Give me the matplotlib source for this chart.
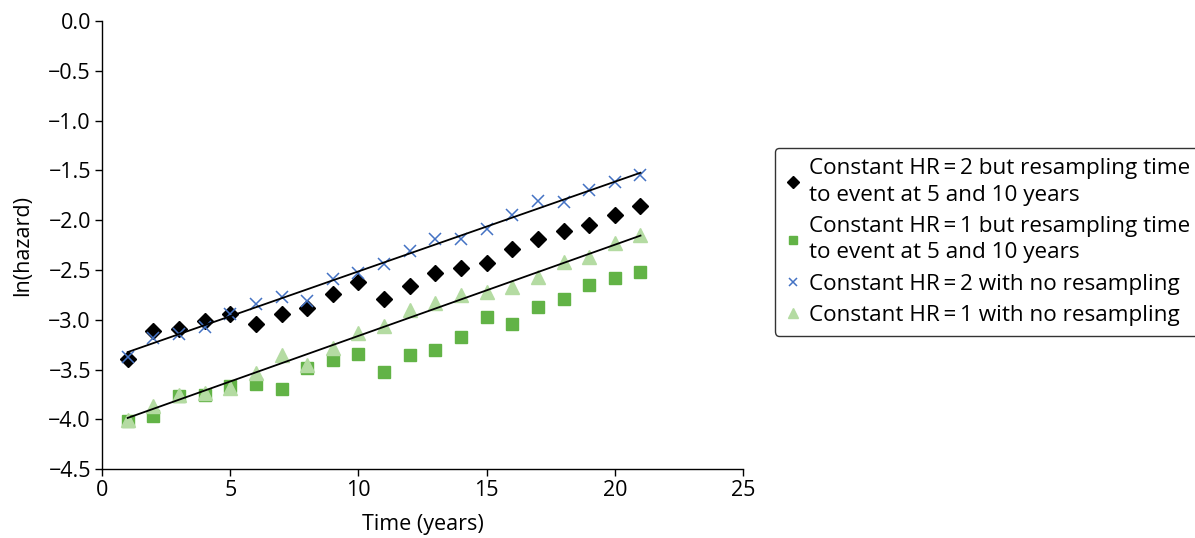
import numpy as np
import matplotlib
matplotlib.use("Agg")
import matplotlib.pyplot as plt

plt.rcParams['font.family'] = ['Open Sans', 'DejaVu Sans']

time_years = [1, 2, 3, 4, 5, 6, 7, 8, 9, 10, 11, 12, 13, 14, 15, 16, 17, 18, 19, 20, 21]

hr2_resampling = [-3.39, -3.11, -3.09, -3.01, -2.94, -3.04, -2.94, -2.88, -2.74, -2.62, -2.79,
                  -2.66, -2.53, -2.48, -2.43, -2.29, -2.19, -2.11, -2.05, -1.95, -1.86]
hr1_resampling = [-4.02, -3.97, -3.77, -3.76, -3.67, -3.65, -3.70, -3.48, -3.40, -3.34, -3.52,
                  -3.35, -3.30, -3.17, -2.97, -3.04, -2.87, -2.79, -2.65, -2.58, -2.52]
hr2_no_resampling = [-3.37, -3.18, -3.14, -3.07, -2.94, -2.84, -2.77, -2.81, -2.59, -2.53, -2.44,
                     -2.31, -2.19, -2.19, -2.09, -1.95, -1.81, -1.82, -1.70, -1.62, -1.55]
hr1_no_resampling = [-4.01, -3.87, -3.76, -3.74, -3.69, -3.53, -3.35, -3.45, -3.28, -3.13, -3.06,
                     -2.90, -2.83, -2.75, -2.72, -2.67, -2.57, -2.42, -2.37, -2.23, -2.15]

labels = [
    "Constant HR\u2009=\u20092 but resampling time\nto event at 5 and 10 years",
    "Constant HR\u2009=\u20091 but resampling time\nto event at 5 and 10 years",
    "Constant HR\u2009=\u20092 with no resampling",
    "Constant HR\u2009=\u20091 with no resampling",
]

fig = plt.figure(figsize=(11.95, 5.38), dpi=100)
ax = fig.add_axes([0.0854, 0.128, 0.5364, 0.833])

t = np.array(time_years)
h1, = ax.plot(t, hr2_resampling, linestyle='none', marker='D', markersize=8.5,
              color='black', label=labels[0], zorder=4)
h2, = ax.plot(t, hr1_resampling, linestyle='none', marker='s', markersize=9,
              color='#62b346', label=labels[1], zorder=3)
h3, = ax.plot(t, hr2_no_resampling, linestyle='none', marker='x', markersize=9,
              markeredgewidth=1.1, color='#4472c4', label=labels[2], zorder=5)
h4, = ax.plot(t, hr1_no_resampling, linestyle='none', marker='^', markersize=10,
              color='#b4dba2', label=labels[3], zorder=3)

# linear trendlines of the no-resampling series
for series in (hr2_no_resampling, hr1_no_resampling):
    k, b = np.polyfit(t, series, 1)
    ax.plot([t[0], t[-1]], [k * t[0] + b, k * t[-1] + b], color='black', lw=1.3, zorder=6)

ax.set_xlim(0, 25)
ax.set_ylim(-4.5, 0)
ax.set_xticks([0, 5, 10, 15, 20, 25])
ax.set_yticks(np.arange(-4.5, 0.01, 0.5))
ax.set_yticklabels([f"{v:.1f}".replace('-', '\u2212') for v in np.arange(-4.5, 0.01, 0.5)])
ax.spines['top'].set_visible(False)
ax.spines['right'].set_visible(False)
for s in ('left', 'bottom'):
    ax.spines[s].set_linewidth(1.0)
ax.tick_params(direction='out', length=5, width=1, labelsize=15.5, pad=3)
ax.set_xlabel("Time (years)", fontsize=15.5, labelpad=9)
ax.set_ylabel("ln(hazard)", fontsize=15.5, labelpad=11)

leg = fig.legend(handles=[h1, h2, h3, h4], loc='upper left',
                 bbox_to_anchor=(0.6485, 0.725), fontsize=16.2, frameon=True,
                 fancybox=True, edgecolor='black', handlelength=0.7,
                 handletextpad=0.35, borderpad=0.45, labelspacing=0.45,
                 markerscale=0.7, borderaxespad=0)
leg.get_frame().set_linewidth(1.0)
for txt in leg.get_texts():
    txt.set_linespacing(1.35)

fig.savefig("out.png", dpi=100)
